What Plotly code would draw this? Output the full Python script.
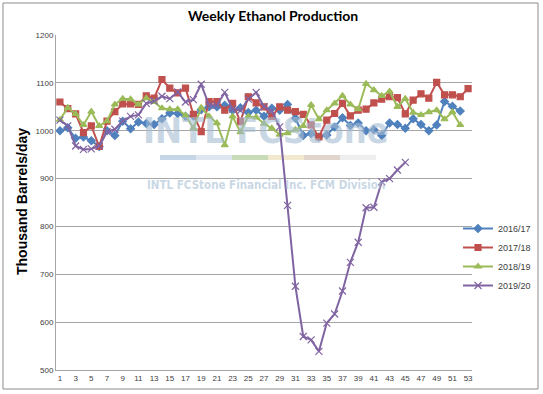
import plotly.graph_objects as go

weeks = list(range(1, 54))
tick_weeks = list(range(1, 54, 2))

s1617 = [1000, 1006, 984, 987, 979, 967, 1000, 990, 1020, 1004, 1018, 1015, 1013, 1025, 1037, 1036, 1030, 1031, 1044,
         1050, 1050, 1053, 1043, 1048, 1038, 1043, 1030, 1047, 1043, 1055, 1026, 990, 994, 987, 991, 1008, 1027, 1011,
         1016, 1000, 1002, 990, 1016, 1013, 1005, 1025, 1013, 1000, 1012, 1061, 1051, 1041]
s1718 = [1060, 1046, 1035, 996, 1010, 967, 1020, 1040, 1056, 1056, 1055, 1073, 1068, 1107, 1089, 1079, 1089, 1034,
         998, 1061, 1061, 1043, 1057, 1019, 1071, 1058, 1050, 1030, 1050, 1043, 1040, 1034, 1012, 987, 1022, 1036,
         1057, 1031, 1043, 1045, 1058, 1066, 1071, 1069, 1035, 1064, 1077, 1068, 1101, 1075, 1075, 1071, 1088]
s1819 = [1023, 1048, 1035, 1012, 1040, 1010, 1020, 1055, 1067, 1066, 1055, 1068, 1060, 1047, 1045, 1045, 1032, 1005,
         1048, 1030, 1016, 970, 1030, 997, 1030, 1028, 1015, 1005, 992, 995, 1002, 1010, 1054, 1024, 1043, 1057,
         1073, 1055, 1045, 1098, 1085, 1073, 1082, 1050, 1067, 1038, 1033, 1039, 1043, 1024, 1039, 1012]
s1920 = [1022, 1010, 968, 961, 962, 968, 998, 1003, 1020, 1030, 1033, 1057, 1062, 1072, 1067, 1081, 1060, 1065,
         1097, 1053, 1053, 1080, 1045, 1042, 1066, 1080, 1050, 1041, 1008, 844, 675, 570, 563, 539, 598, 617, 665,
         725, 767, 839, 840, 893, 900, 918, 934]

series = [
    ("2016/17", s1617, "#4F81BD", "diamond", 6),
    ("2017/18", s1718, "#C0504D", "square", 6),
    ("2018/19", s1819, "#9BBB59", "triangle-up", 6),
    ("2019/20", s1920, "#8064A2", "x-thin-open", 7),
]

fig = go.Figure()
for name, vals, col, sym, sz in series:
    fig.add_trace(go.Scatter(
        x=weeks[:len(vals)], y=vals, name=name, mode="lines+markers",
        line=dict(color=col, width=2),
        marker=dict(symbol=sym, size=sz, color=col, line=dict(color=col, width=1.2)),
    ))

W, H = 543, 394
L, R, T, B = 56, 472, 35, 370
pw, ph = R - L, B - T

def px(x):
    return (x - L) / pw

def py(y):
    return (B - y) / ph

shapes = [
    dict(type="rect", xref="paper", yref="paper", x0=px(3), x1=px(538), y0=py(389), y1=py(3),
         line=dict(color="#8c8c8c", width=1), layer="below"),
]
bar_cols = ["#c6d6e6", "#dde6ef", "#c9dcb8", "#f1ead0", "#e2d5cc", "#eeeeee"]
bx = [160, 196, 232, 268, 304, 340, 376]
for i, c in enumerate(bar_cols):
    shapes.append(dict(type="rect", xref="paper", yref="paper", x0=px(bx[i]), x1=px(bx[i + 1]),
                       y0=py(160), y1=py(155), fillcolor=c, line=dict(width=0), layer="below"))

wm = "rgba(165,188,210,0.6)"
annotations = [
    dict(text="<b>Weekly Ethanol Production</b>", xref="paper", yref="paper", x=px(273), y=py(16),
         showarrow=False, font=dict(family="Lato", size=14, color="#000000"), xanchor="center", yanchor="middle"),
    dict(text="<b>Thousand Barrels/day</b>", xref="paper", yref="paper", x=px(22), y=py(202),
         showarrow=False, textangle=-90, font=dict(family="Liberation Sans", size=14, color="#000000"),
         xanchor="center", yanchor="middle"),
    dict(text="<b>INTL FCStone</b>", xref="paper", yref="paper", x=px(266), y=py(130), showarrow=False,
         font=dict(family="Liberation Sans Narrow, DejaVu Sans Condensed", size=36, color=wm),
         xanchor="center", yanchor="middle"),
    dict(text="<b>INTL FCStone Financial Inc. FCM Division</b>", xref="paper", yref="paper", x=px(266), y=py(185),
         showarrow=False, font=dict(family="Liberation Sans Narrow, DejaVu Sans Condensed", size=11.5, color=wm),
         xanchor="center", yanchor="middle"),
]

fig.update_layout(
    width=W, height=H,
    margin=dict(l=L, r=W - R, t=T, b=H - B, autoexpand=False),
    paper_bgcolor="white", plot_bgcolor="white",
    showlegend=True,
    legend=dict(x=px(458), y=py(214), xanchor="left", yanchor="top",
                font=dict(family="Liberation Sans", size=9, color="#404040"),
                bgcolor="rgba(0,0,0,0)", itemwidth=30, tracegroupgap=0),
    shapes=shapes,
    annotations=annotations,
    font=dict(family="Liberation Sans"),
)
fig.update_xaxes(range=[0.5, 53.5], tickmode="array", tickvals=tick_weeks,
                 ticktext=[str(v) for v in tick_weeks], showgrid=False, zeroline=False,
                 showline=True, linecolor="#a6a6a6", linewidth=1, ticks="",
                 tickfont=dict(size=8, color="#404040"))
fig.update_yaxes(range=[500, 1200], tickvals=[500, 600, 700, 800, 900, 1000, 1100, 1200],
                 showgrid=True, gridcolor="#a6a6a6", gridwidth=1, zeroline=False,
                 showline=True, linecolor="#a6a6a6", linewidth=1, ticks="",
                 tickfont=dict(size=8, color="#404040"))

fig.write_html("out.html", config={"displayModeBar": False},
               post_script="document.body.style.margin='0';")
